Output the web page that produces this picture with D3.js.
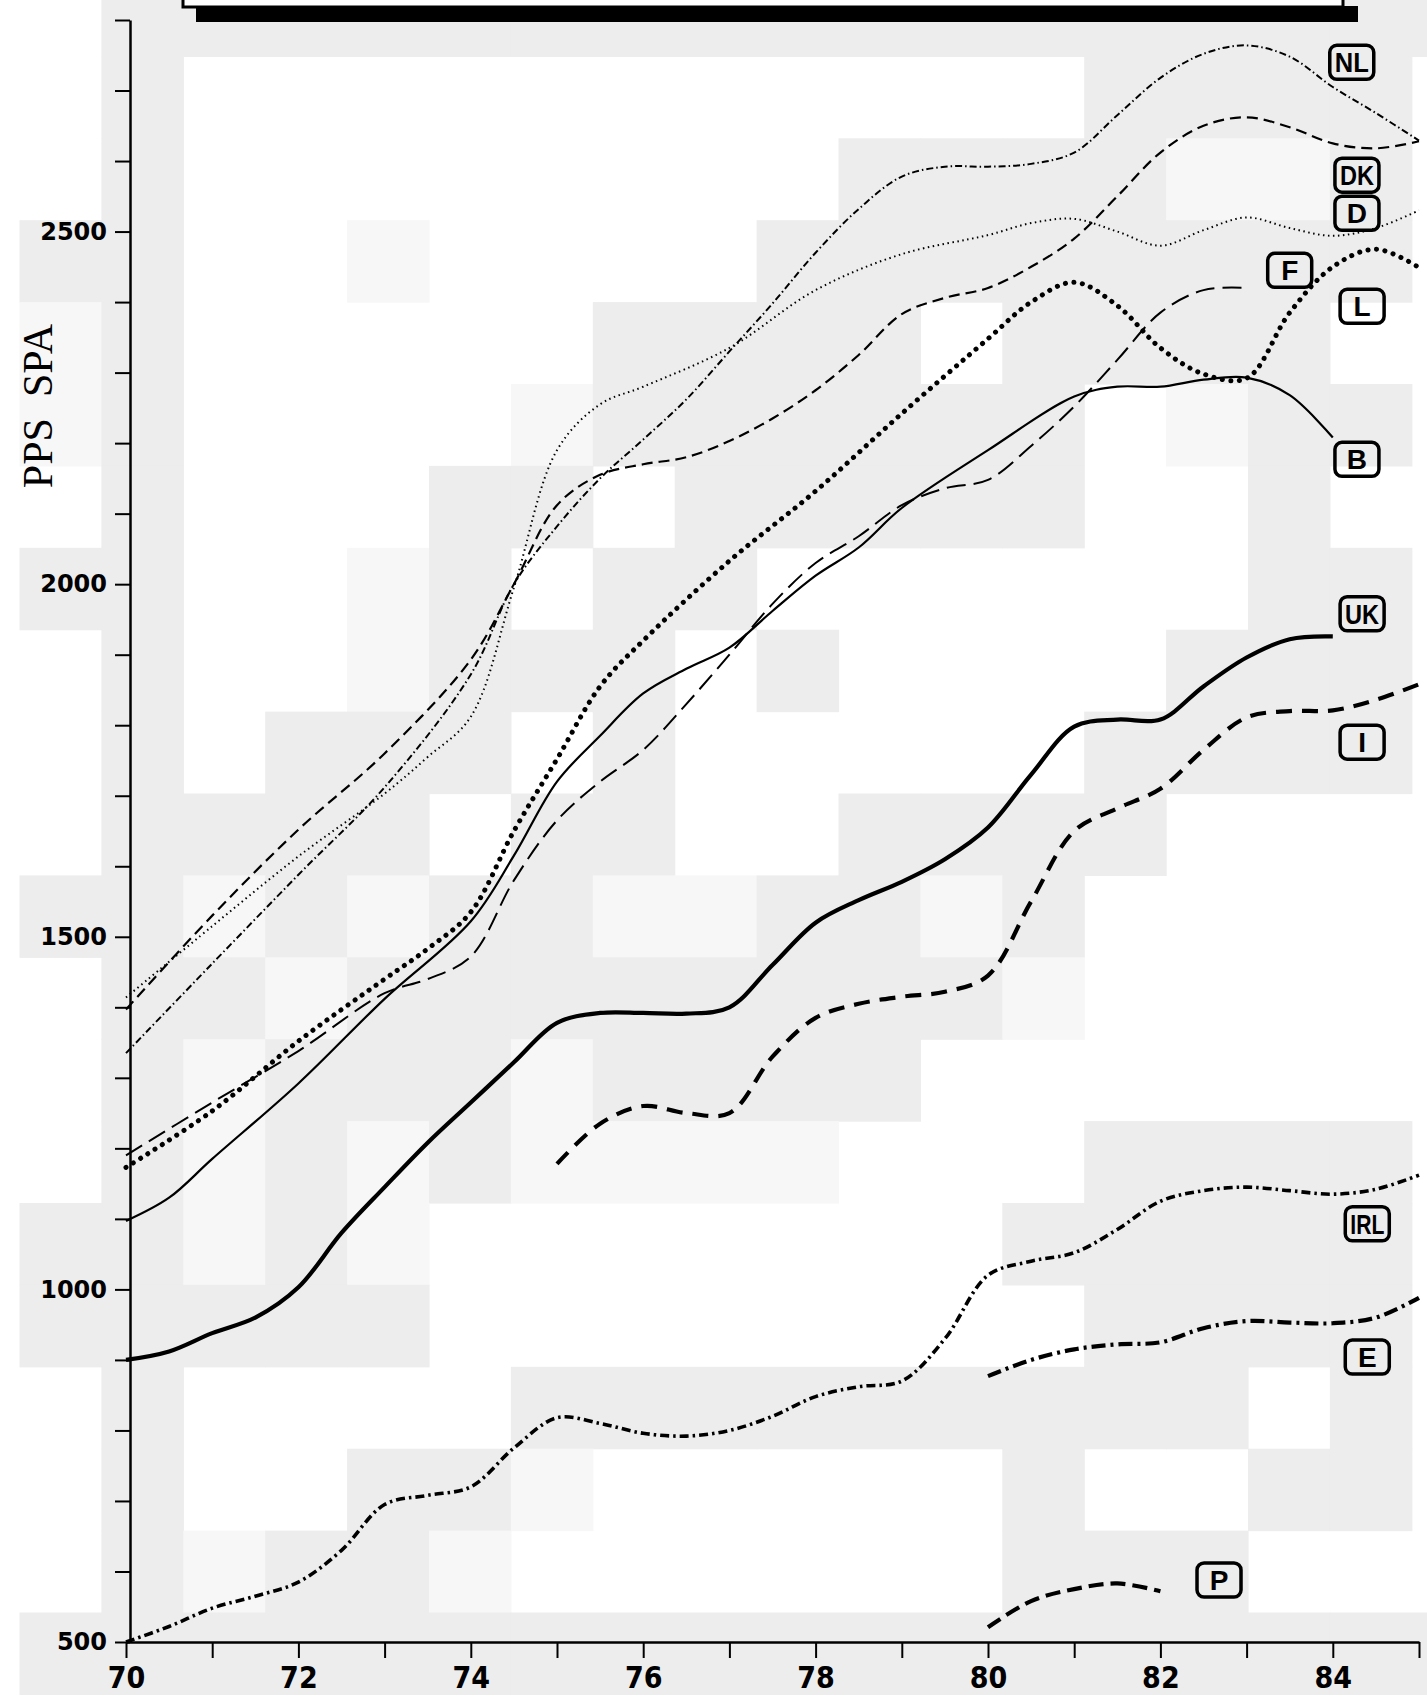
<!DOCTYPE html>
<html>
<head>
<meta charset="utf-8">
<script src="https://cdn.jsdelivr.net/npm/d3@7"></script>
<style>
  body { margin: 0; background: #fff; }
  svg { display: block; }
</style>
</head>
<body>
<div id="chart"></div>
<script>
// values, [year, PPS]
const NL  = [[70,1335],[71,1462],[72,1588],[73,1712],[74,1872],[74.5,2000],[75,2082],[75.5,2150],[76,2205],[76.5,2262],[77,2330],[77.5,2398],[78,2470],[78.5,2532],[79,2578],[79.5,2592],[80,2592],[80.5,2596],[81,2612],[81.5,2665],[82,2718],[82.5,2752],[83,2764],[83.5,2748],[84,2705],[84.5,2668],[85,2629]];
const DK  = [[70,1397],[71,1530],[72,1652],[73,1760],[74,1893],[74.5,2000],[75,2112],[75.5,2155],[76,2170],[76.5,2180],[77,2203],[77.5,2235],[78,2275],[78.5,2325],[79,2383],[79.5,2406],[80,2420],[80.5,2450],[81,2490],[81.5,2550],[82,2612],[82.5,2650],[83,2662],[83.5,2648],[84,2625],[84.5,2618],[85,2628]];
const D   = [[70,1414],[71,1515],[72,1614],[73,1703],[73.5,1755],[74,1812],[74.5,1995],[75,2190],[75.5,2255],[76,2280],[77,2335],[78,2417],[79,2468],[80,2495],[80.5,2512],[81,2518],[81.5,2500],[82,2480],[82.5,2502],[83,2520],[83.5,2505],[84,2494],[84.5,2505],[85,2530]];
const F   = [[70,1190],[71,1265],[72,1338],[73,1420],[73.5,1440],[74,1472],[74.5,1580],[75,1665],[75.5,1720],[76,1765],[76.5,1830],[77,1900],[77.5,1972],[78,2030],[78.5,2068],[79,2112],[79.5,2136],[80,2148],[80.5,2196],[81,2252],[81.5,2318],[82,2385],[82.5,2417],[83,2420]];
const L   = [[70,1173],[71,1253],[72,1352],[73,1440],[73.5,1483],[74,1535],[74.5,1650],[75,1752],[75.5,1855],[76,1920],[77,2033],[78,2132],[79,2242],[80,2348],[80.5,2400],[81,2428],[81.5,2395],[82,2335],[82.5,2298],[83,2292],[83.5,2385],[84,2450],[84.5,2475],[85,2449]];
const B   = [[70,1097],[70.5,1130],[71,1185],[72,1292],[73,1412],[74,1522],[74.5,1615],[75,1720],[75.5,1785],[76,1845],[76.5,1880],[77,1910],[77.5,1962],[78,2012],[78.5,2052],[79,2108],[80,2190],[81,2266],[81.5,2280],[82,2280],[82.5,2290],[83,2293],[83.5,2268],[84,2208]];
const UK  = [[70,900],[70.5,912],[71,938],[71.5,960],[72,1003],[72.5,1080],[73,1145],[73.5,1208],[74,1265],[74.5,1322],[75,1378],[75.5,1392],[76,1392],[76.5,1391],[77,1400],[77.5,1460],[78,1520],[78.5,1552],[79,1578],[79.5,1610],[80,1655],[80.5,1730],[81,1798],[81.5,1808],[82,1808],[82.5,1855],[83,1896],[83.5,1922],[84,1926]];
const I   = [[75,1178],[75.5,1235],[76,1260],[76.5,1250],[77,1250],[77.5,1330],[78,1385],[78.5,1405],[79,1415],[79.5,1422],[80,1445],[80.5,1550],[81,1650],[81.5,1682],[82,1710],[82.5,1765],[83,1811],[83.5,1820],[84,1821],[84.5,1836],[85,1858]];
const IRL = [[70,500],[70.5,522],[71,548],[71.5,565],[72,585],[72.5,630],[73,695],[73.5,708],[74,720],[74.5,775],[75,818],[75.5,810],[76,796],[76.5,792],[77,800],[77.5,820],[78,848],[78.5,862],[79,870],[79.5,930],[80,1020],[80.5,1040],[81,1052],[81.5,1085],[82,1125],[82.5,1140],[83,1145],[83.5,1140],[84,1135],[84.5,1142],[85,1162]];
const E   = [[80,877],[80.5,900],[81,915],[81.5,922],[82,925],[82.5,945],[83,955],[83.5,953],[84,952],[84.5,960],[85,988]];
const P   = [[80,521],[80.5,558],[81,575],[81.5,583],[82,572]];

const seriesNames  = ['NL', 'DK', 'D', 'F', 'L', 'B', 'UK', 'I', 'IRL', 'E', 'P'];
const seriesValues = [NL, DK, D, F, L, B, UK, I, IRL, E, P];

// where the boxed country codes sit, in data units
const labelYear  = [84.22, 84.28, 84.28, 83.5, 84.34, 84.28, 84.34, 84.34, 84.4, 84.4, 82.68];
const labelValue = [2740, 2580, 2526, 2445, 2394, 2177, 1958, 1776, 1093, 904, 588];

const xTicks = d3.range(70, 86);
const yTicks = d3.range(500, 2801, 100);

// line look per country
const styles = {
  NL:  { w: 2,   dash: '7,3,1.5,3' },
  DK:  { w: 2.2, dash: '11,6' },
  D:   { w: 2,   dash: '1.5,3.5' },
  F:   { w: 2,   dash: '19,8' },
  L:   { w: 5,   dash: '0.1,8.5', cap: 'round' },
  B:   { w: 2.2, dash: null },
  UK:  { w: 4.2, dash: null },
  I:   { w: 4.2, dash: '16,10' },
  IRL: { w: 3.6, dash: '9,4,2.5,4' },
  E:   { w: 4.2, dash: '14,5,3,5' },
  P:   { w: 4.2, dash: '15,7' }
};

// scanned-paper shading, one char per 82px block ('#' grey, '+' faint)
const paper = [
  '.#################',
  '.#...........####.',
  '.#........####++#.',
  '##..+....########.',
  '+#.....####.####..',
  '+#....+######.+##.',
  '.#...##.#####..#..',
  '##..+#.##......##.',
  '.#..+###.#....###.',
  '.#.###.#.....####.',
  '.####.##..####....',
  '##+#+##++##+#.....',
  '.##+########+.....',
  '.#+###+####.......',
  '.#+#+#++++...####.',
  '##+#+.......#####.',
  '#####........####.',
  '.#....#########.#.',
  '.#..##+.....#..##.',
  '.#+##+......###...',
  '##################'
];

const W = 1427, H = 1702;
const x = d3.scaleLinear().domain([70, 85]).range([126, 1419]);
const y = d3.scaleLinear().domain([500, 2800]).range([1642, 20]);

const svg = d3.select('#chart').append('svg')
  .attr('width', W)
  .attr('height', H);

// background blocks
const cell = 81.9;
paper.forEach(function(row, r) {
  for (let c = 0; c < row.length; c++) {
    const ch = row[c];
    if (ch === '.') continue;
    svg.append('rect')
      .attr('x', 19.5 + c * cell)
      .attr('y', 56.4 + (r - 1) * cell)
      .attr('width', cell + 0.6)
      .attr('height', cell + 0.6)
      .attr('fill', ch === '#' ? '#ededed' : '#f7f7f7');
  }
});

// title box cut off at the top, with its heavy shadow
svg.append('rect')
  .attr('x', 196).attr('y', 6).attr('width', 1162).attr('height', 16)
  .attr('fill', '#000');
svg.append('rect')
  .attr('x', 183).attr('y', -30).attr('width', 1160).attr('height', 37)
  .attr('fill', '#fff').attr('stroke', '#000').attr('stroke-width', 3);

// axes
const yAxis = d3.axisLeft(y)
  .tickValues(yTicks)
  .tickFormat(function(d) { return d % 500 === 0 ? d : ''; })
  .tickSize(15)
  .tickSizeOuter(0)
  .tickPadding(8);

const gy = svg.append('g')
  .attr('transform', 'translate(130,0)')
  .call(yAxis);
gy.select('.domain').attr('stroke-width', 2.5);
gy.selectAll('.tick line').attr('stroke-width', 2);
gy.selectAll('.tick text')
  .attr('font-family', '"DejaVu Sans", Arial, sans-serif')
  .attr('font-weight', 'bold')
  .attr('font-size', 24)
  .attr('fill', '#000');

const xAxis = d3.axisBottom(x)
  .tickValues(xTicks)
  .tickFormat(function(d) { return d % 2 === 0 ? d : ''; })
  .tickSize(16)
  .tickSizeOuter(0)
  .tickPadding(9);

const gx = svg.append('g')
  .attr('transform', 'translate(0,1642)')
  .call(xAxis);
gx.select('.domain').attr('stroke-width', 2.5);
gx.selectAll('.tick line').attr('stroke-width', 2);
gx.selectAll('.tick text')
  .attr('font-family', '"Liberation Sans Narrow", "DejaVu Sans Condensed", Arial, sans-serif')
  .attr('font-weight', 'bold')
  .attr('font-size', 30)
  .attr('fill', '#000');

svg.append('text')
  .attr('transform', 'translate(38,406) rotate(-90)')
  .attr('text-anchor', 'middle')
  .attr('dominant-baseline', 'central')
  .attr('font-family', '"Liberation Serif", "Times New Roman", serif')
  .attr('font-size', 42)
  .attr('fill', '#000')
  .style('white-space', 'pre')
  .text('PPS  SPA');

// the curves
const line = d3.line()
  .x(d => x(d[0]))
  .y(d => y(d[1]))
  .curve(d3.curveCatmullRom.alpha(0.5));

seriesNames.forEach(function(name, i) {
  const s = styles[name];
  svg.append('path')
    .datum(seriesValues[i])
    .attr('d', line)
    .attr('fill', 'none')
    .attr('stroke', '#000')
    .attr('stroke-width', s.w)
    .attr('stroke-dasharray', s.dash)
    .attr('stroke-linecap', s.cap || 'butt')
    .attr('stroke-linejoin', 'round');
});

// boxed country codes
seriesNames.forEach(function(name, i) {
  const cx = x(labelYear[i]), cy = y(labelValue[i]);
  const g = svg.append('g').attr('transform', 'translate(' + cx + ',' + cy + ')');
  g.append('rect')
    .attr('x', -22).attr('y', -17).attr('width', 44).attr('height', 34)
    .attr('rx', 7)
    .attr('fill', 'none')
    .attr('stroke', '#000')
    .attr('stroke-width', 3.5);
  const t = g.append('text')
    .attr('text-anchor', 'middle')
    .attr('dy', '0.36em')
    .attr('font-family', '"Liberation Sans Narrow", "Liberation Sans", Arial, sans-serif')
    .attr('font-weight', 'bold')
    .attr('font-size', 28)
    .attr('fill', '#000')
    .text(name);
  if (name.length > 1) {
    t.attr('textLength', 34).attr('lengthAdjust', 'spacingAndGlyphs');
  }
});
</script>
</body>
</html>
